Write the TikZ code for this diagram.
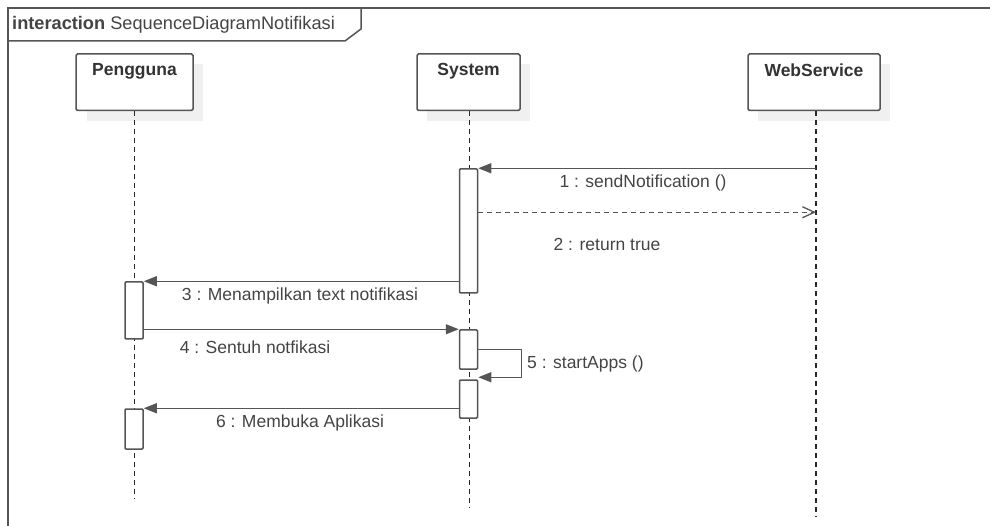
\documentclass[tikz,border=0pt]{standalone}
\usepackage{fontspec}
\setmainfont{Liberation Sans}
\usetikzlibrary{arrows.meta,calc}
\definecolor{lc}{HTML}{555555}
\definecolor{tc}{HTML}{444444}
\definecolor{hc}{HTML}{333333}
\definecolor{sh}{HTML}{F0F0F0}
\tikzset{
  head/.style={draw=lc, line width=1.5pt, fill=white, rounded corners=1.5pt, minimum height=56.5pt, inner sep=0pt},
  headlbl/.style={font=\fontsize{17.5}{20}\selectfont\bfseries, text=hc, anchor=north, inner sep=0pt},
  act/.style={draw=lc, line width=1.5pt, fill=white, rounded corners=1pt, minimum width=18pt, inner sep=0pt},
  life/.style={draw=black!85, line width=1.1pt, dash pattern=on 5pt off 4pt},
  msg/.style={draw=lc, line width=1.4pt, -{Triangle[length=13pt,width=10pt]}},
  ret/.style={draw=lc, line width=1.3pt, dash pattern=on 5pt off 4pt, -{Straight Barb[length=12pt,width=11pt]}},
  lbl/.style={font=\fontsize{17.5}{20}\selectfont, text=tc, inner sep=0pt},
}
\begin{document}
\begin{tikzpicture}[x=1pt,y=-1pt]
\useasboundingbox (0,0) rectangle (990,526);
% frame
\draw[lc, line width=1.5pt] (8,530) -- (8,8) -- (995,8);
\draw[lc, line width=1.5pt] (8,41) -- (345,41) -- (361,29) -- (361,8);
\node[anchor=west, inner sep=0pt, text=tc, font=\fontsize{18.2}{21}\selectfont] (title) at (12,24.5) {\textbf{interaction} SequenceDiagramNotifikasi};
% shadows
\fill[sh] (87,64) rectangle (203,121);
\fill[sh] (427,64) rectangle (530,121);
\fill[sh] (758,64) rectangle (890,121);
% heads
\node[head, minimum width=117pt] (pg) at (134.5,82.25) {};
\node[head, minimum width=103pt] (sy) at (468.5,82.25) {};
\node[head, minimum width=132pt] (ws) at (814,82.25) {};
\node[headlbl] (pgl) at ($(pg.north)+(0,10)$) {Pengguna};
\node[headlbl] (syl) at ($(sy.north)+(0,10)$) {System};
\node[headlbl] (wsl) at ($(ws.north)+(0,10)$) {WebService};
% lifelines
\coordinate (pgend) at (134.5,499);
\coordinate (syend) at (469.5,508);
\coordinate (wsend) at (816,517);
\draw[life] (pg.south -| pgend) -- (pgend);
\draw[life] (sy.south -| syend) -- (syend);
\draw[life] (ws.south -| wsend) -- (wsend);
% activations
\node[act, minimum height=124pt] (sa1) at (468.5,231) {};
\node[act, minimum height=39pt] (sa2) at (468.5,349.5) {};
\node[act, minimum height=38pt] (sa3) at (468.5,399) {};
\node[act, minimum height=57pt] (pa1) at (134,310.5) {};
\node[act, minimum height=40pt] (pa2) at (134,429) {};
% messages
\draw[msg] (wsend |- sa1.north) -- (sa1.north east);
\coordinate (r2) at ($(sa1.north east)+(0,44)$);
\draw[ret] (r2) -- (wsend |- r2);
\draw[msg] (sa1.west |- pa1.north) -- (pa1.north east);
\draw[msg] (pa1.east |- sa2.north) -- (sa2.north west);
\draw[msg] (sa2.east) -- ++(43,0) |- ($(sa3.north east)+(0,-2)$);
\draw[msg] (sa3.west |- pa2.north) -- (pa2.north east);
% labels
\node[lbl] (l1) at (643,183) {1 : sendNotification ()};
\node[lbl] (l2) at (607,244) {2 : return true};
\node[lbl] (l3) at (300,296) {3 : Menampilkan text notifikasi};
\node[lbl] (l4) at (255,347) {4 : Sentuh notfikasi};
\node[lbl, anchor=west] (l5) at (527,364) {5 : startApps ()};
\node[lbl] (l6) at (300,423) {6 : Membuka Aplikasi};
\end{tikzpicture}
\end{document}
